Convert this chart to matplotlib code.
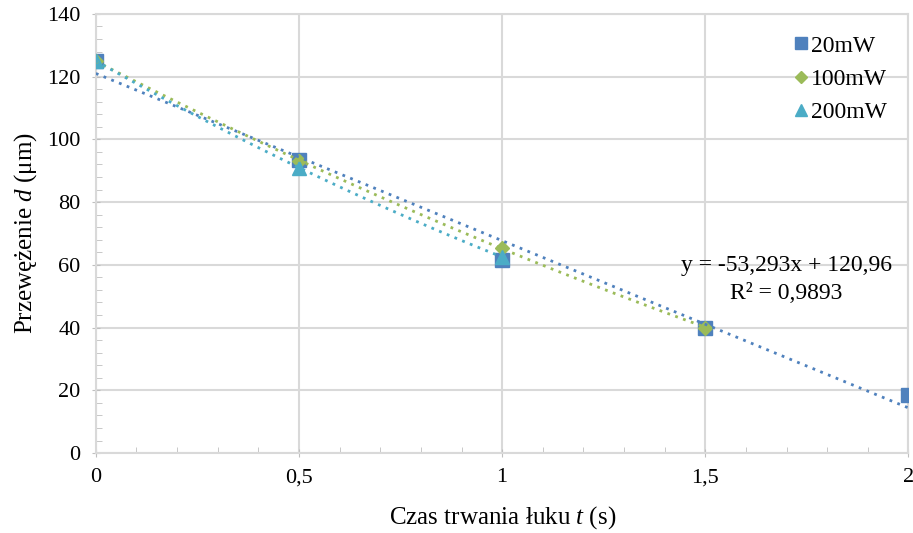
import matplotlib.pyplot as plt
import numpy as np

plt.rcParams['font.family'] = ['Liberation Serif', 'DejaVu Serif']
plt.rcParams['mathtext.fontset'] = 'custom'
plt.rcParams['mathtext.it'] = 'Liberation Serif:italic'
plt.rcParams['mathtext.rm'] = 'Liberation Serif'

# data
t_20 = [0, 0.5, 1, 1.5, 2]
d_20 = [125, 93.5, 61.5, 40, 18.5]
t_100 = [0, 0.5, 1, 1.5]
d_100 = [125, 93, 65.5, 40]
t_200 = [0, 0.5, 1]
d_200 = [125, 91, 62.5]
labels = ["20mW", "100mW", "200mW"]
colors = ["#4F81BD", "#9BBB59", "#4BACC6"]
markers = ["s", "D", "^"]
sizes = [10.5, 7.5, 10.5]
trend_deg = [1, 2, 2]  # linear for 20mW, polynomial trend for the others

fig = plt.figure(figsize=(9.13, 5.33), dpi=100)
ax = fig.add_axes([0.105, 0.150, 0.890, 0.824])

series = [(t_20, d_20), (t_100, d_100), (t_200, d_200)]
for (t, d), lab, c, m, s in zip(series, labels, colors, markers, sizes):
    ax.plot(t, d, linestyle="none", marker=m, markersize=s, color=c,
            label=lab, zorder=3)
for (t, d), c, deg in zip(series, colors, trend_deg):
    p = np.polyfit(t, d, deg)
    xs = np.linspace(min(t), max(t), 100)
    ax.plot(xs, np.polyval(p, xs), linestyle=(0, (1, 2)), linewidth=2,
            color=c, zorder=4)

ax.set_xlim(0, 2)
ax.set_ylim(0, 140)
ax.set_xticks([0, 0.5, 1, 1.5, 2])
ax.set_xticklabels(["0", "0,5", "1", "1,5", "2"])
ax.set_yticks(range(0, 141, 20))
ax.set_xticks(np.arange(0, 2.01, 0.1), minor=True)
ax.set_yticks(range(0, 141, 4), minor=True)
ax.grid(True, which="major", color="#D9D9D9", linewidth=1.5)
for sp in ax.spines.values():
    sp.set_color("#D9D9D9")
    sp.set_linewidth(1.5)
ax.tick_params(which="major", direction="inout", length=6, color="#BFBFBF",
               labelsize=16, pad=8)
ax.tick_params(which="minor", direction="in", length=4, color="#BFBFBF")

ax.set_xlabel("Czas trwania łuku $\\it{t}$ (s)", fontsize=18, labelpad=12)
ax.set_ylabel("Przewężenie $\\it{d}$ (μm)", fontsize=18, labelpad=6)

ax.text(0.85, 0.395, "y = -53,293x + 120,96\nR² = 0,9893", transform=ax.transAxes,
        ha="center", va="center", fontsize=17, linespacing=1.4)

leg = ax.legend(loc="upper right", frameon=False, fontsize=17,
                handletextpad=0.05, borderaxespad=0.4, borderpad=0.5,
                labelspacing=0.5, handlelength=0.8, markerscale=0.85)

fig.savefig("out.png", dpi=100)
